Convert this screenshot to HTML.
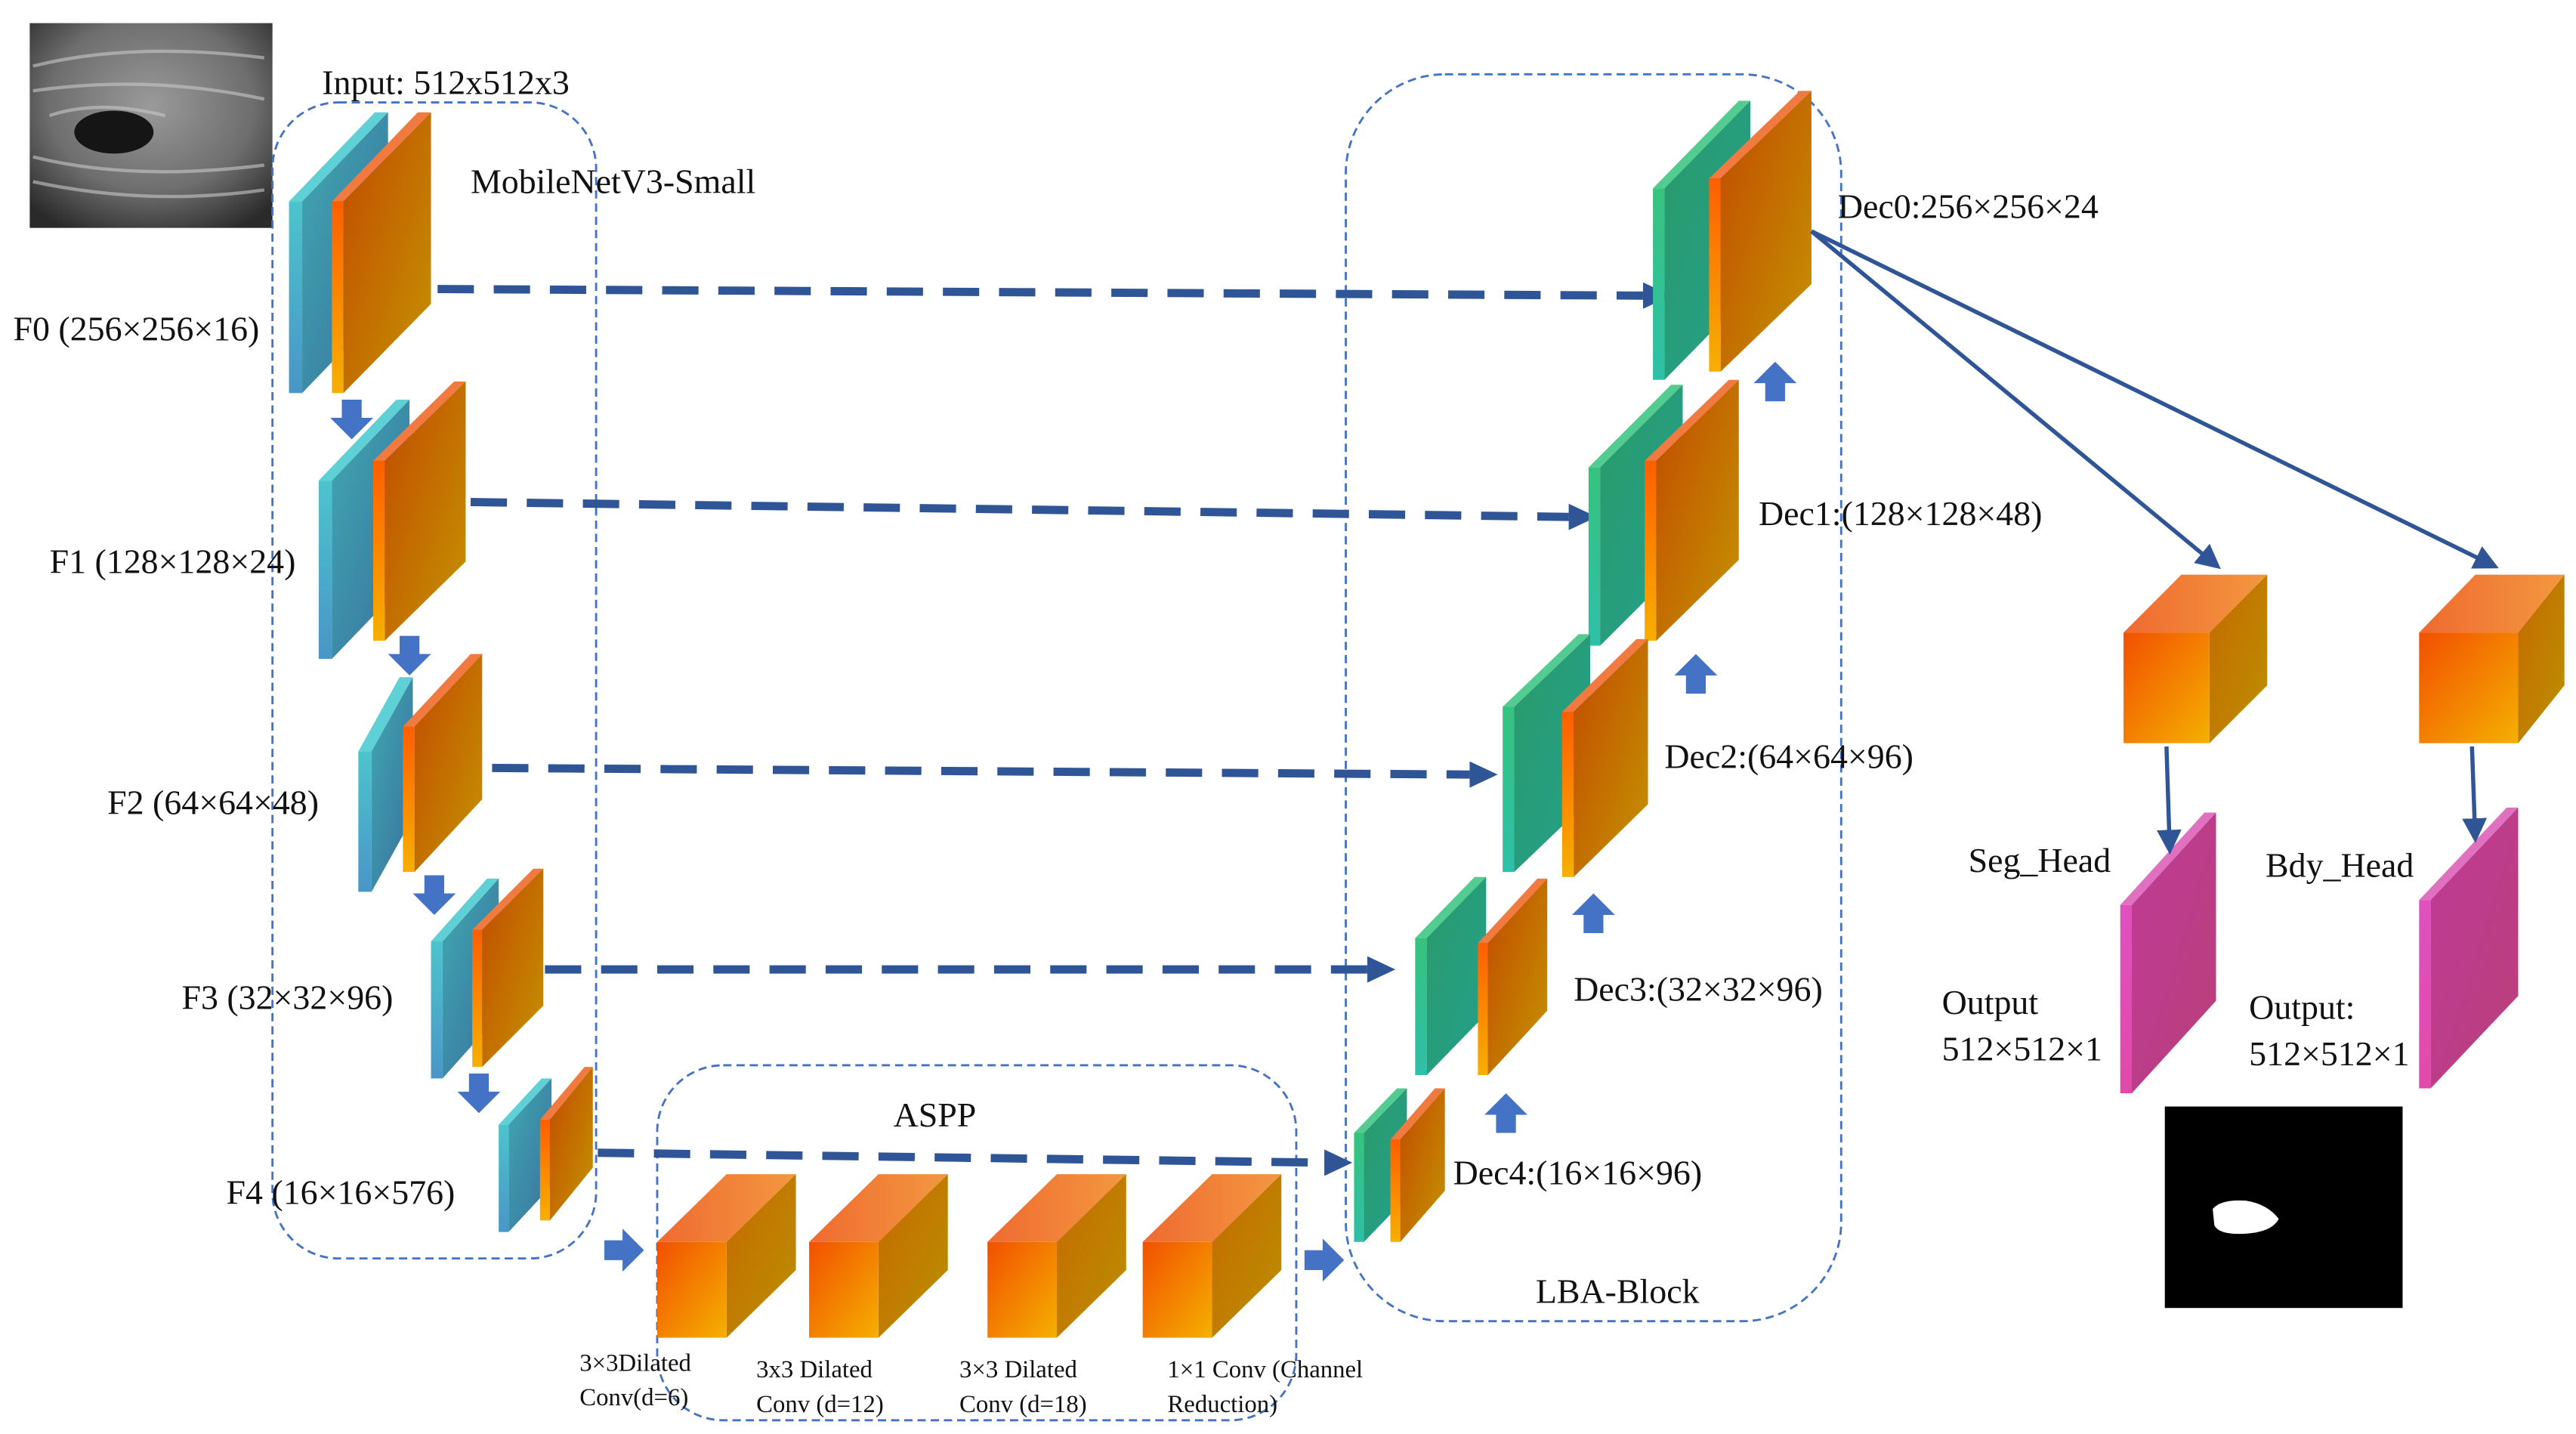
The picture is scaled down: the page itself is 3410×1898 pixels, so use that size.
<!DOCTYPE html>
<html><head><meta charset="utf-8">
<style>
html,body{margin:0;padding:0;background:#fff;}
svg{display:block;}
text{font-family:"Liberation Serif",serif;fill:#111;}
</style></head>
<body>
<svg width="3410" height="1898" viewBox="0 0 1560 868.3" preserveAspectRatio="none" xmlns="http://www.w3.org/2000/svg">
<defs>
<linearGradient id="cy" x1="0" y1="0" x2="1" y2="1"><stop offset="0" stop-color="#3FA9B0"/><stop offset="1" stop-color="#3A6FA0"/></linearGradient>
<linearGradient id="cyE" x1="0" y1="0" x2="0" y2="1"><stop offset="0" stop-color="#4CC4CC"/><stop offset="1" stop-color="#4A95C8"/></linearGradient>
<linearGradient id="or" x1="0" y1="0" x2="1" y2="1"><stop offset="0" stop-color="#C24A00"/><stop offset="1" stop-color="#C49400"/></linearGradient>
<linearGradient id="orE" x1="0" y1="0" x2="0" y2="1"><stop offset="0" stop-color="#FF5E00"/><stop offset="1" stop-color="#F6B000"/></linearGradient>
<linearGradient id="gr" x1="0" y1="0" x2="1" y2="1"><stop offset="0" stop-color="#2A9A68"/><stop offset="1" stop-color="#23A08E"/></linearGradient>
<linearGradient id="grE" x1="0" y1="0" x2="0" y2="1"><stop offset="0" stop-color="#36C27E"/><stop offset="1" stop-color="#2EC0A8"/></linearGradient>
<linearGradient id="pk" x1="0" y1="0" x2="1" y2="1"><stop offset="0" stop-color="#C03A98"/><stop offset="1" stop-color="#B84078"/></linearGradient>
<linearGradient id="pkE" x1="0" y1="0" x2="0" y2="1"><stop offset="0" stop-color="#E050C0"/><stop offset="1" stop-color="#E04AA8"/></linearGradient>
<linearGradient id="cf" x1="0" y1="0" x2="1" y2="1"><stop offset="0" stop-color="#F25000"/><stop offset="1" stop-color="#F4B000"/></linearGradient>
<linearGradient id="ct" x1="0" y1="0" x2="1" y2="0"><stop offset="0" stop-color="#F06A30"/><stop offset="1" stop-color="#F29840"/></linearGradient>
<linearGradient id="cs" x1="0" y1="0" x2="1" y2="1"><stop offset="0" stop-color="#C46A00"/><stop offset="1" stop-color="#BC9000"/></linearGradient>
<radialGradient id="us" cx="0.5" cy="0.4" r="0.7"><stop offset="0" stop-color="#9a9a9a"/><stop offset="0.6" stop-color="#6e6e6e"/><stop offset="1" stop-color="#2a2a2a"/></radialGradient>
<marker id="ah" markerWidth="4" markerHeight="4" refX="2.2" refY="2" orient="auto" markerUnits="strokeWidth"><path d="M0,0 L4,2 L0,4 z" fill="#2F5597"/></marker>
<marker id="ah2" markerWidth="6" markerHeight="6" refX="5" refY="3" orient="auto" markerUnits="strokeWidth"><path d="M0,0 L6,3 L0,6 z" fill="#2F5597"/></marker>
</defs>

<!-- ultrasound -->
<rect x="18" y="14" width="147" height="124" fill="url(#us)"/>
<path d="M20,40 Q80,25 160,35 M20,55 Q90,45 160,60 M20,95 Q80,110 160,100 M20,110 Q90,125 160,115 M30,70 Q60,60 100,70" stroke="#c8c8c8" stroke-width="2" fill="none" opacity="0.6"/>
<ellipse cx="69" cy="80" rx="24" ry="13" fill="#151515"/>

<!-- dashed containers -->
<g fill="none" stroke="#4472C4" stroke-width="1.3" stroke-dasharray="5,3">
<rect x="165" y="62" width="196" height="700" rx="40"/>
<rect x="815" y="45" width="300" height="755" rx="60"/>
<rect x="398" y="645" width="387" height="215" rx="40"/>
</g>

<!-- text labels -->
<g font-size="21">
<text x="195" y="57">Input: 512x512x3</text>
<text x="285" y="117">MobileNetV3-Small</text>
<text x="8" y="206">F0 (256×256×16)</text>
<text x="30" y="347">F1 (128×128×24)</text>
<text x="65" y="493">F2 (64×64×48)</text>
<text x="110" y="611">F3 (32×32×96)</text>
<text x="137" y="729">F4 (16×16×576)</text>
<text x="541" y="682">ASPP</text>
<text x="1113" y="132">Dec0:256×256×24</text>
<text x="1065" y="318">Dec1:(128×128×48)</text>
<text x="1008" y="465">Dec2:(64×64×96)</text>
<text x="953" y="606">Dec3:(32×32×96)</text>
<text x="880" y="717">Dec4:(16×16×96)</text>
<text x="930" y="789">LBA-Block</text>
<text x="1192" y="528">Seg_Head</text>
<text x="1372" y="531">Bdy_Head</text>
<text x="1176" y="614">Output</text>
<text x="1176" y="642">512×512×1</text>
<text x="1362" y="617">Output:</text>
<text x="1362" y="645">512×512×1</text>
</g>
<g font-size="15">
<text x="351" y="830">3×3Dilated</text>
<text x="351" y="851">Conv(d=6)</text>
<text x="458" y="834">3x3 Dilated</text>
<text x="458" y="855">Conv (d=12)</text>
<text x="581" y="834">3×3 Dilated</text>
<text x="581" y="855">Conv (d=18)</text>
<text x="707" y="834">1×1 Conv (Channel</text>
<text x="707" y="855">Reduction)</text>
</g>

<!-- skip connections -->
<g stroke="#2F5597" stroke-width="5" stroke-dasharray="22,12" fill="none">
<line x1="265" y1="175" x2="995" y2="179"/>
<line x1="285" y1="304" x2="950" y2="313"/>
<line x1="298" y1="465" x2="890" y2="469"/>
<line x1="330" y1="587" x2="828" y2="587"/>
<line x1="362" y1="698" x2="802" y2="704"/>
</g>
<g fill="#2F5597">
<path d="M995,171 L1012,179 L995,187 z"/>
<path d="M950,305 L967,313 L950,321 z"/>
<path d="M890,461 L907,469 L890,477 z"/>
<path d="M828,579 L845,587 L828,595 z"/>
<path d="M802,696 L819,704 L802,712 z"/>
</g>

<!-- plates: edge strip + face -->
<g id="plates">
<!-- F0 -->
<path d="M175,122 L227,68 L235,68 L183,122 z" fill="#5FD0D6"/><path d="M175,122 L183,122 L183,238 L175,238 z" fill="url(#cyE)"/><path d="M183,122 L235,68 L235,184 L183,238 z" fill="url(#cy)"/>
<path d="M201,122 L253,68 L261,68 L208,122 z" fill="#F07A40"/><path d="M201,122 L208,122 L208,238 L201,238 z" fill="url(#orE)"/><path d="M208,122 L261,68 L261,184 L208,238 z" fill="url(#or)"/>
<!-- F1 -->
<path d="M193,291 L240,242 L248,242 L201,291 z" fill="#5FD0D6"/><path d="M193,291 L201,291 L201,399 L193,399 z" fill="url(#cyE)"/><path d="M201,291 L248,242 L248,350 L201,399 z" fill="url(#cy)"/>
<path d="M226,279 L275,231 L282,231 L233,279 z" fill="#F07A40"/><path d="M226,279 L233,279 L233,388 L226,388 z" fill="url(#orE)"/><path d="M233,279 L282,231 L282,340 L233,388 z" fill="url(#or)"/>
<!-- F2 -->
<path d="M217,455 L242,410 L250,410 L225,455 z" fill="#5FD0D6"/><path d="M217,455 L225,455 L225,540 L217,540 z" fill="url(#cyE)"/><path d="M225,455 L250,410 L250,495 L225,540 z" fill="url(#cy)"/>
<path d="M244,440 L285,396 L292,396 L251,440 z" fill="#F07A40"/><path d="M244,440 L251,440 L251,528 L244,528 z" fill="url(#orE)"/><path d="M251,440 L292,396 L292,484 L251,528 z" fill="url(#or)"/>
<!-- F3 -->
<path d="M261,570 L295,532 L302,532 L268,570 z" fill="#5FD0D6"/><path d="M261,570 L268,570 L268,653 L261,653 z" fill="url(#cyE)"/><path d="M268,570 L302,532 L302,615 L268,653 z" fill="url(#cy)"/>
<path d="M286,563 L323,526 L329,526 L292,563 z" fill="#F07A40"/><path d="M286,563 L292,563 L292,646 L286,646 z" fill="url(#orE)"/><path d="M292,563 L329,526 L329,609 L292,646 z" fill="url(#or)"/>
<!-- F4 -->
<path d="M302,681 L328,653 L334,653 L308,681 z" fill="#5FD0D6"/><path d="M302,681 L308,681 L308,746 L302,746 z" fill="url(#cyE)"/><path d="M308,681 L334,653 L334,718 L308,746 z" fill="url(#cy)"/>
<path d="M327,678 L354,646 L359,646 L333,678 z" fill="#F07A40"/><path d="M327,678 L333,678 L333,739 L327,739 z" fill="url(#orE)"/><path d="M333,678 L359,646 L359,707 L333,739 z" fill="url(#or)"/>

<!-- Dec0 -->
<path d="M1001,114 L1053,61 L1060,61 L1008,114 z" fill="#52CC90"/><path d="M1001,114 L1008,114 L1008,230 L1001,230 z" fill="url(#grE)"/><path d="M1008,114 L1060,61 L1060,177 L1008,230 z" fill="url(#gr)"/>
<path d="M1035,108 L1090,55 L1097,55 L1042,108 z" fill="#F07A40"/><path d="M1035,108 L1042,108 L1042,225 L1035,225 z" fill="url(#orE)"/><path d="M1042,108 L1097,55 L1097,172 L1042,225 z" fill="url(#or)"/>
<!-- Dec1 -->
<path d="M962,283 L1012,233 L1019,233 L969,283 z" fill="#52CC90"/><path d="M962,283 L969,283 L969,391 L962,391 z" fill="url(#grE)"/><path d="M969,283 L1019,233 L1019,341 L969,391 z" fill="url(#gr)"/>
<path d="M996,279 L1047,230 L1053,230 L1003,279 z" fill="#F07A40"/><path d="M996,279 L1003,279 L1003,388 L996,388 z" fill="url(#orE)"/><path d="M1003,279 L1053,230 L1053,339 L1003,388 z" fill="url(#or)"/>
<!-- Dec2 -->
<path d="M910,428 L956,384 L963,384 L917,428 z" fill="#52CC90"/><path d="M910,428 L917,428 L917,528 L910,528 z" fill="url(#grE)"/><path d="M917,428 L963,384 L963,484 L917,528 z" fill="url(#gr)"/>
<path d="M946,431 L991,387 L998,387 L953,431 z" fill="#F07A40"/><path d="M946,431 L953,431 L953,531 L946,531 z" fill="url(#orE)"/><path d="M953,431 L998,387 L998,487 L953,531 z" fill="url(#or)"/>
<!-- Dec3 -->
<path d="M857,568 L893,531 L900,531 L864,568 z" fill="#52CC90"/><path d="M857,568 L864,568 L864,651 L857,651 z" fill="url(#grE)"/><path d="M864,568 L900,531 L900,614 L864,651 z" fill="url(#gr)"/>
<path d="M895,571 L931,532 L937,532 L901,571 z" fill="#F07A40"/><path d="M895,571 L901,571 L901,651 L895,651 z" fill="url(#orE)"/><path d="M901,571 L937,532 L937,612 L901,651 z" fill="url(#or)"/>
<!-- Dec4 -->
<path d="M820,686 L846,659 L852,659 L826,686 z" fill="#52CC90"/><path d="M820,686 L826,686 L826,752 L820,752 z" fill="url(#grE)"/><path d="M826,686 L852,659 L852,725 L826,752 z" fill="url(#gr)"/>
<path d="M842,690 L869,659 L875,659 L848,690 z" fill="#F07A40"/><path d="M842,690 L848,690 L848,752 L842,752 z" fill="url(#orE)"/><path d="M848,690 L875,659 L875,721 L848,752 z" fill="url(#or)"/>

<!-- pink heads -->
<path d="M1284,548 L1335,492 L1342,492 L1291,548 z" fill="#E070C0"/><path d="M1284,548 L1291,548 L1291,662 L1284,662 z" fill="url(#pkE)"/><path d="M1291,548 L1342,492 L1342,606 L1291,662 z" fill="url(#pk)"/>
<path d="M1465,545 L1518,489 L1525,489 L1472,545 z" fill="#E070C0"/><path d="M1465,545 L1472,545 L1472,659 L1465,659 z" fill="url(#pkE)"/><path d="M1472,545 L1525,489 L1525,603 L1472,659 z" fill="url(#pk)"/>
</g>

<!-- cubes -->
<g>
<path d="M398,752 L440,711 L482,711 L440,752 z" fill="url(#ct)"/><path d="M440,752 L482,711 L482,769 L440,810 z" fill="url(#cs)"/><rect x="398" y="752" width="42" height="58" fill="url(#cf)"/>
<path d="M490,752 L532,711 L574,711 L532,752 z" fill="url(#ct)"/><path d="M532,752 L574,711 L574,769 L532,810 z" fill="url(#cs)"/><rect x="490" y="752" width="42" height="58" fill="url(#cf)"/>
<path d="M598,752 L640,711 L682,711 L640,752 z" fill="url(#ct)"/><path d="M640,752 L682,711 L682,769 L640,810 z" fill="url(#cs)"/><rect x="598" y="752" width="42" height="58" fill="url(#cf)"/>
<path d="M692,752 L734,711 L776,711 L734,752 z" fill="url(#ct)"/><path d="M734,752 L776,711 L776,769 L734,810 z" fill="url(#cs)"/><rect x="692" y="752" width="42" height="58" fill="url(#cf)"/>
<path d="M1286,383 L1321,348 L1373,348 L1338,383 z" fill="url(#ct)"/><path d="M1338,383 L1373,348 L1373,415 L1338,450 z" fill="url(#cs)"/><rect x="1286" y="383" width="52" height="67" fill="url(#cf)"/>
<path d="M1465,383 L1499,348 L1553,348 L1525,383 z" fill="url(#ct)"/><path d="M1525,383 L1553,348 L1553,415 L1525,450 z" fill="url(#cs)"/><rect x="1465" y="383" width="60" height="67" fill="url(#cf)"/>
</g>

<!-- block arrows -->
<g fill="#4472C4">
<path d="M207,242 h12 v11 h7 l-13,13 l-13,-13 h7 z"/>
<path d="M242,385 h12 v11 h7 l-13,13 l-13,-13 h7 z"/>
<path d="M257,530 h12 v11 h7 l-13,13 l-13,-13 h7 z"/>
<path d="M284,650 h12 v11 h7 l-13,13 l-13,-13 h7 z"/>
<path d="M1069,243 h12 v-11 h7 l-13,-13 l-13,13 h7 z"/>
<path d="M1021,420 h12 v-11 h7 l-13,-13 l-13,13 h7 z"/>
<path d="M959,565 h12 v-11 h7 l-13,-13 l-13,13 h7 z"/>
<path d="M906,686 h12 v-11 h7 l-13,-13 l-13,13 h7 z"/>
<path d="M366,751 v12 h11 v7 l13,-13 l-13,-13 v7 z"/>
<path d="M790,757 v12 h11 v7 l13,-13 l-13,-13 v7 z"/>
</g>

<!-- head connectors -->
<g stroke="#2F5597" stroke-width="2.5" fill="none">
<line x1="1097" y1="140" x2="1343" y2="343" marker-end="url(#ah2)"/>
<line x1="1097" y1="140" x2="1511" y2="343" marker-end="url(#ah2)"/>
<line x1="1312" y1="452" x2="1314" y2="515" marker-end="url(#ah2)"/>
<line x1="1497" y1="452" x2="1499" y2="508" marker-end="url(#ah2)"/>
</g>

<!-- mask -->
<rect x="1311" y="670" width="144" height="122" fill="#000"/>
<path d="M1340,732 Q1345,726 1360,727 Q1373,729 1380,738 Q1376,746 1360,747 Q1344,748 1341,742 z" fill="#fff"/>
</svg>
</body></html>
